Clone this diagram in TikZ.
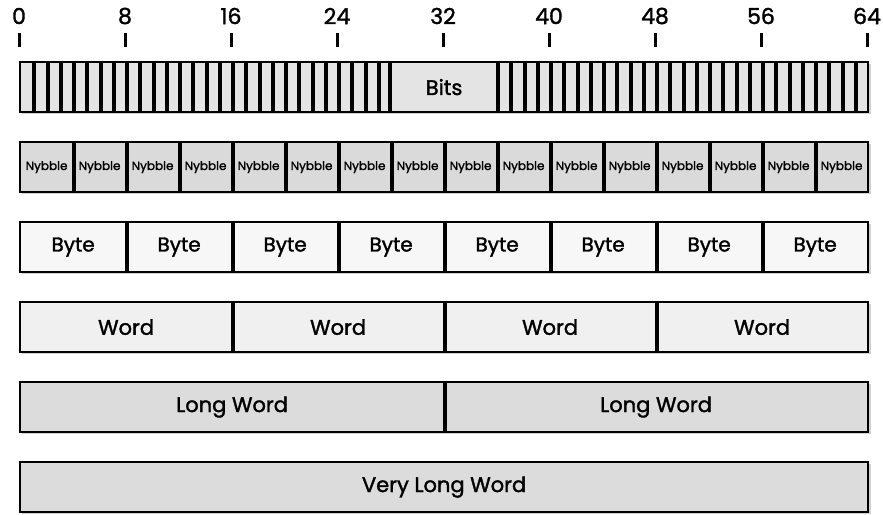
\documentclass[tikz,border=0pt]{standalone}
\usepackage{fontspec}
\setmainfont{Poppins}[FakeBold=1.6]
\definecolor{bitfill}{HTML}{E4E4E4}
\definecolor{nybfill}{HTML}{DADADA}
\definecolor{bytefill}{HTML}{F7F7F7}
\definecolor{wordfill}{HTML}{F0F0F0}
\definecolor{longfill}{HTML}{DCDCDC}
\definecolor{shadowc}{HTML}{BDBDBD}
\tikzset{
  cell/.style={draw=black, line width=2.2pt, inner sep=0pt, minimum height=50pt, anchor=north west},
  bitcell/.style={cell, fill=bitfill, minimum width=13.25pt},
  nybcell/.style={cell, fill=nybfill, minimum width=53pt, font=\fontsize{12}{12}\selectfont},
  bytecell/.style={cell, fill=bytefill, minimum width=106pt, font=\fontsize{20}{20}\selectfont},
  wordcell/.style={cell, fill=wordfill, minimum width=212pt, font=\fontsize{21}{21}\selectfont},
  longcell/.style={cell, fill=longfill, minimum width=424pt, font=\fontsize{21}{21}\selectfont},
  vlcell/.style={cell, fill=longfill, minimum width=848pt, font=\fontsize{21}{21}\selectfont},
  divider/.style={line width=4pt, black},
  rowshadow/.style={fill=shadowc, opacity=0.7},
  tickmark/.style={fill=black, inner sep=0pt, minimum width=3pt, minimum height=14pt},
  ticklabel/.style={inner sep=0pt, font=\fontsize{22}{22}\selectfont},
}
\begin{document}
\begin{tikzpicture}[x=1pt,y=-1pt]
\useasboundingbox (0,0) rectangle (883,514);
% shadows
\foreach \yy in {61,141,221,301,381,461} {
  \fill[rowshadow] (22,\yy+3) rectangle (871,\yy+53);
}
% ticks and numbers
\foreach \k in {0,8,...,64} {
  \node[tickmark] (t\k) at ({19+\k*13.25},40) {};
  \node[ticklabel] (n\k) at ({19+\k*13.25},16) {\k};
}
% Bits row
\foreach \i in {0,...,27} {
  \node[bitcell] (b\i) at ({19+\i*13.25},61) {};
}
\foreach \i in {36,...,63} {
  \node[bitcell] (b\i) at ({19+\i*13.25},61) {};
}
\node[cell, fill=bitfill, minimum width=106pt, font=\fontsize{21}{21}\selectfont] (bits) at (390,61) {Bits};
\foreach \i in {0,...,26} {
  \draw[divider] (b\i.north east) -- (b\i.south east);
}
\foreach \i in {36,...,62} {
  \draw[divider] (b\i.north east) -- (b\i.south east);
}
\draw[divider] (bits.north west) -- (bits.south west);
\draw[divider] (bits.north east) -- (bits.south east);
% Nybble row
\foreach \i in {0,...,15} {
  \node[nybcell] (ny\i) at ({19+\i*53},141) {Nybble};
}
\foreach \i in {0,...,14} {
  \draw[divider] (ny\i.north east) -- (ny\i.south east);
}
% Byte row
\foreach \i in {0,...,7} {
  \node[bytecell] (by\i) at ({19+\i*106},221) {Byte};
}
\foreach \i in {0,...,6} {
  \draw[divider] (by\i.north east) -- (by\i.south east);
}
% Word row
\foreach \i in {0,...,3} {
  \node[wordcell] (w\i) at ({19+\i*212},301) {Word};
}
\foreach \i in {0,...,2} {
  \draw[divider] (w\i.north east) -- (w\i.south east);
}
% Long word row
\node[longcell] (lw0) at (19,381) {Long Word};
\node[longcell] (lw1) at (443,381) {Long Word};
\draw[divider] (lw0.north east) -- (lw0.south east);
% Very long word
\node[vlcell] (vlw) at (19,461) {Very Long Word};
\end{tikzpicture}
\end{document}
